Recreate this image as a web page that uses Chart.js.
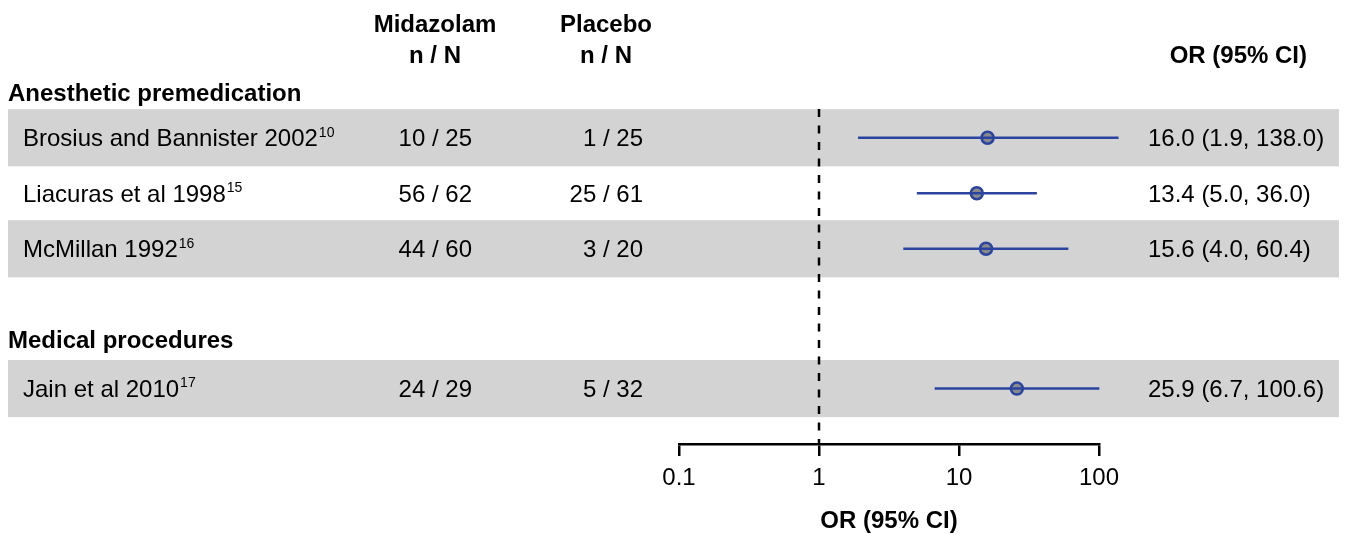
<!DOCTYPE html>
<html>
<head>
<meta charset="utf-8">
<script src="https://cdn.jsdelivr.net/npm/chart.js@4/dist/chart.umd.min.js"></script>
<style>
  html, body { margin: 0; padding: 0; background: #ffffff; }
  #wrap { width: 1354px; height: 534px; }
</style>
</head>
<body>
<div id="wrap"><canvas id="c" width="1354" height="534"></canvas></div>
<script>
// ---------------- DATA ----------------
const groupNames = ['Anesthetic premedication', 'Medical procedures'];
const studies = ['Brosius and Bannister 2002', 'Liacuras et al 1998', 'McMillan 1992', 'Jain et al 2010'];
const studyRefs = ['10', '15', '16', '17'];
const studyGroup = [0, 0, 0, 1];
const midazolamEvents = [10, 56, 44, 24];
const midazolamTotal = [25, 62, 60, 29];
const placeboEvents = [1, 25, 3, 5];
const placeboTotal = [25, 61, 20, 32];
const oddsRatio = [16.0, 13.4, 15.6, 25.9];
const ciLower = [1.9, 5.0, 4.0, 6.7];
const ciUpper = [138.0, 36.0, 60.4, 100.6];
const tickValues = [0.1, 1, 10, 100];
const columnHeaders = ['Midazolam', 'Placebo'];
const countHeader = 'n / N';
const effectHeader = 'OR (95% CI)';
const axisTitle = 'OR (95% CI)';

// ---------------- LAYOUT (row slots on the y scale) ----------------
const rowSlot = [0.5, 1.5, 2.5, 5.02];
const groupSlot = [-0.32, 4.14];
const shadedRows = [0, 2, 3];
const TEXT_DY = 2;

const FONT = '"Liberation Sans", Arial, Helvetica, sans-serif';
const BLUE = '#2a44a0';
const BAND = '#d3d3d3';

// CI segments built from the arrays (null separates segments)
const ciData = [];
studies.forEach((s, i) => {
  ciData.push({ x: ciLower[i], y: rowSlot[i] });
  ciData.push({ x: ciUpper[i], y: rowSlot[i] });
  ciData.push({ x: null, y: null });
});
const pointData = studies.map((s, i) => ({ x: oddsRatio[i], y: rowSlot[i] }));

const tablePlugin = {
  id: 'tablePlugin',
  beforeDatasetsDraw(chart) {
    const ctx = chart.ctx;
    const ys = chart.scales.y, xs = chart.scales.x;
    const area = chart.chartArea;
    ctx.save();
    // shaded bands
    ctx.fillStyle = BAND;
    shadedRows.forEach(i => {
      const top = ys.getPixelForValue(rowSlot[i] - 0.515);
      const bot = ys.getPixelForValue(rowSlot[i] + 0.515);
      ctx.fillRect(8, top, 1339 - 8, bot - top);
    });
    // reference line at OR = 1
    const x1 = Math.round(xs.getPixelForValue(1));
    ctx.strokeStyle = '#000';
    ctx.lineWidth = 2.5;
    ctx.setLineDash([8, 8.5]);
    ctx.beginPath();
    ctx.moveTo(x1, area.top - 1);
    ctx.lineTo(x1, area.bottom);
    ctx.stroke();
    ctx.restore();
  },
  afterDraw(chart) {
    const ctx = chart.ctx;
    const ys = chart.scales.y;
    ctx.save();
    ctx.fillStyle = '#000';
    ctx.textBaseline = 'middle';
    // column headers
    ctx.font = 'bold 24px ' + FONT;
    ctx.textAlign = 'center';
    ctx.fillText(columnHeaders[0], 435, 23 + TEXT_DY);
    ctx.fillText(countHeader, 435, 54 + TEXT_DY);
    ctx.fillText(columnHeaders[1], 606, 23 + TEXT_DY);
    ctx.fillText(countHeader, 606, 54 + TEXT_DY);
    ctx.textAlign = 'right';
    ctx.fillText(effectHeader, 1307, 54 + TEXT_DY);
    // group headers
    ctx.textAlign = 'left';
    groupNames.forEach((g, gi) => {
      ctx.fillText(g, 8, ys.getPixelForValue(groupSlot[gi]) + TEXT_DY);
    });
    // study rows
    studies.forEach((s, i) => {
      const y = ys.getPixelForValue(rowSlot[i]) + TEXT_DY;
      ctx.font = '24px ' + FONT;
      ctx.textAlign = 'left';
      ctx.fillText(s, 23, y);
      const w = ctx.measureText(s).width;
      ctx.font = '14px ' + FONT;
      ctx.fillText(studyRefs[i], 23 + w + 1, y - 7);
      ctx.font = '24px ' + FONT;
      ctx.textAlign = 'right';
      ctx.fillText(midazolamEvents[i] + ' / ' + midazolamTotal[i], 472, y);
      ctx.fillText(placeboEvents[i] + ' / ' + placeboTotal[i], 643, y);
      ctx.textAlign = 'left';
      ctx.fillText(oddsRatio[i].toFixed(1) + ' (' + ciLower[i].toFixed(1) + ', ' + ciUpper[i].toFixed(1) + ')', 1148, y);
    });
    ctx.restore();
  }
};

new Chart(document.getElementById('c'), {
  type: 'scatter',
  data: {
    datasets: [
      {
        type: 'line',
        data: ciData,
        borderColor: BLUE,
        borderWidth: 2.5,
        pointRadius: 0,
        spanGaps: false,
        fill: false,
        clip: false
      },
      {
        type: 'scatter',
        data: pointData,
        pointRadius: 6,
        pointBackgroundColor: '#8a8a8a',
        pointBorderColor: BLUE,
        pointBorderWidth: 2.5,
        clip: false
      }
    ]
  },
  options: {
    responsive: false,
    animation: false,
    devicePixelRatio: 1,
    layout: { padding: { left: 679, right: 255, top: 110, bottom: 0 } },
    plugins: { legend: { display: false }, tooltip: { enabled: false } },
    scales: {
      x: {
        type: 'logarithmic',
        min: 0.1,
        max: 100,
        afterBuildTicks(scale) { scale.ticks = tickValues.map(v => ({ value: v })); },
        afterFit(scale) { scale.height = 90; },
        ticks: {
          color: '#000',
          font: { family: FONT, size: 24 },
          padding: 8,
          maxRotation: 0,
          autoSkip: false,
          callback: (v) => String(v)
        },
        grid: { display: true, drawOnChartArea: false, drawTicks: true, tickLength: 12, color: '#000', lineWidth: 2.5 },
        border: { display: true, color: '#000', width: 2.5 },
        title: { display: true, text: axisTitle, color: '#000', font: { family: FONT, size: 24, weight: 'bold', lineHeight: 1.05 }, padding: { top: 0, bottom: 0 } }
      },
      y: {
        type: 'linear',
        display: false,
        reverse: true,
        min: 0,
        max: 6.018
      }
    }
  },
  plugins: [tablePlugin]
});
</script>
</body>
</html>
